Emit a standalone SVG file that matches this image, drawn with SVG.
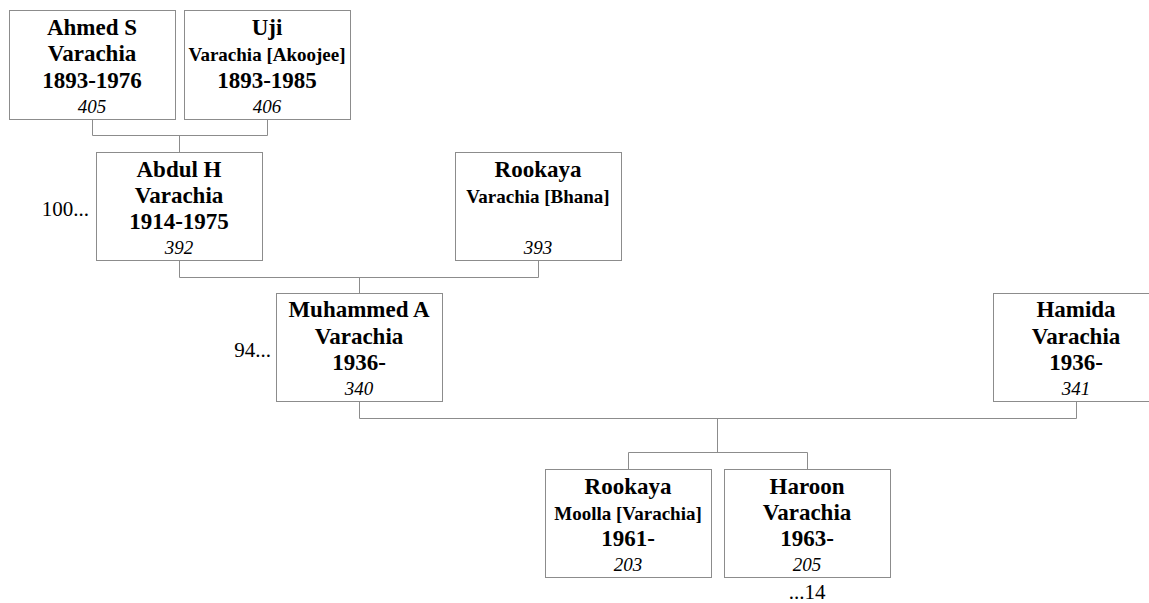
<svg xmlns="http://www.w3.org/2000/svg" width="1149" height="603" viewBox="0 0 1149 603">
<style>
.box{fill:#fff;stroke:#8c8c8c;stroke-width:1}
.con{fill:none;stroke:#8c8c8c;stroke-width:1}
text{font-family:"Liberation Serif","Times New Roman",serif;fill:#000;text-anchor:middle}
.b{font-weight:bold;font-size:23px}
.s{font-weight:bold;font-size:19px}
.n{font-style:italic;font-size:19px}
.lbl{font-size:21px}
.end{text-anchor:end}
</style>
<rect width="1149" height="603" fill="#fff"/>
<g id="connectors">
<path class="con" d="M92.5 120V135.5H267.5V120M179.5 135.5V152"/>
<path class="con" d="M179.5 261V277.5H538.5V261M359.5 277.5V293"/>
<path class="con" d="M359.5 402V418.5H1076.5V402M717.5 418.5V452.5M628.5 469V452.5H807.5V469"/>
</g>
<g id="n405">
<rect class="box" x="9.5" y="10.5" width="166" height="109"/>
<text class="b" x="92" y="35">Ahmed S</text>
<text class="b" x="92" y="61">Varachia</text>
<text class="b" x="92" y="88">1893-1976</text>
<text class="n" x="92" y="113">405</text>
</g>
<g id="n406">
<rect class="box" x="184.5" y="10.5" width="166" height="109"/>
<text class="b" x="267" y="35">Uji</text>
<text class="s" x="267" y="61">Varachia [Akoojee]</text>
<text class="b" x="267" y="88">1893-1985</text>
<text class="n" x="267" y="113">406</text>
</g>
<g id="n392">
<rect class="box" x="96.5" y="152.5" width="166" height="108"/>
<text class="b" x="179" y="177">Abdul H</text>
<text class="b" x="179" y="203">Varachia</text>
<text class="b" x="179" y="229">1914-1975</text>
<text class="n" x="179" y="254">392</text>
<text class="lbl end" x="89" y="216">100...</text>
</g>
<g id="n393">
<rect class="box" x="455.5" y="152.5" width="166" height="108"/>
<text class="b" x="538" y="177">Rookaya</text>
<text class="s" x="538" y="203">Varachia [Bhana]</text>
<text class="n" x="538" y="254">393</text>
</g>
<g id="n340">
<rect class="box" x="276.5" y="293.5" width="166" height="108"/>
<text class="b" x="359" y="317">Muhammed A</text>
<text class="b" x="359" y="344">Varachia</text>
<text class="b" x="359" y="370">1936-</text>
<text class="n" x="359" y="395">340</text>
<text class="lbl end" x="271" y="357">94...</text>
</g>
<g id="n341">
<rect class="box" x="993.5" y="293.5" width="166" height="108"/>
<text class="b" x="1076" y="317">Hamida</text>
<text class="b" x="1076" y="344">Varachia</text>
<text class="b" x="1076" y="370">1936-</text>
<text class="n" x="1076" y="395">341</text>
</g>
<g id="n203">
<rect class="box" x="545.5" y="469.5" width="166" height="108"/>
<text class="b" x="628" y="494">Rookaya</text>
<text class="s" x="628" y="520">Moolla [Varachia]</text>
<text class="b" x="628" y="546">1961-</text>
<text class="n" x="628" y="571">203</text>
</g>
<g id="n205">
<rect class="box" x="724.5" y="469.5" width="166" height="108"/>
<text class="b" x="807" y="494">Haroon</text>
<text class="b" x="807" y="520">Varachia</text>
<text class="b" x="807" y="546">1963-</text>
<text class="n" x="807" y="571">205</text>
<text class="lbl" x="807" y="599">...14</text>
</g>
</svg>
